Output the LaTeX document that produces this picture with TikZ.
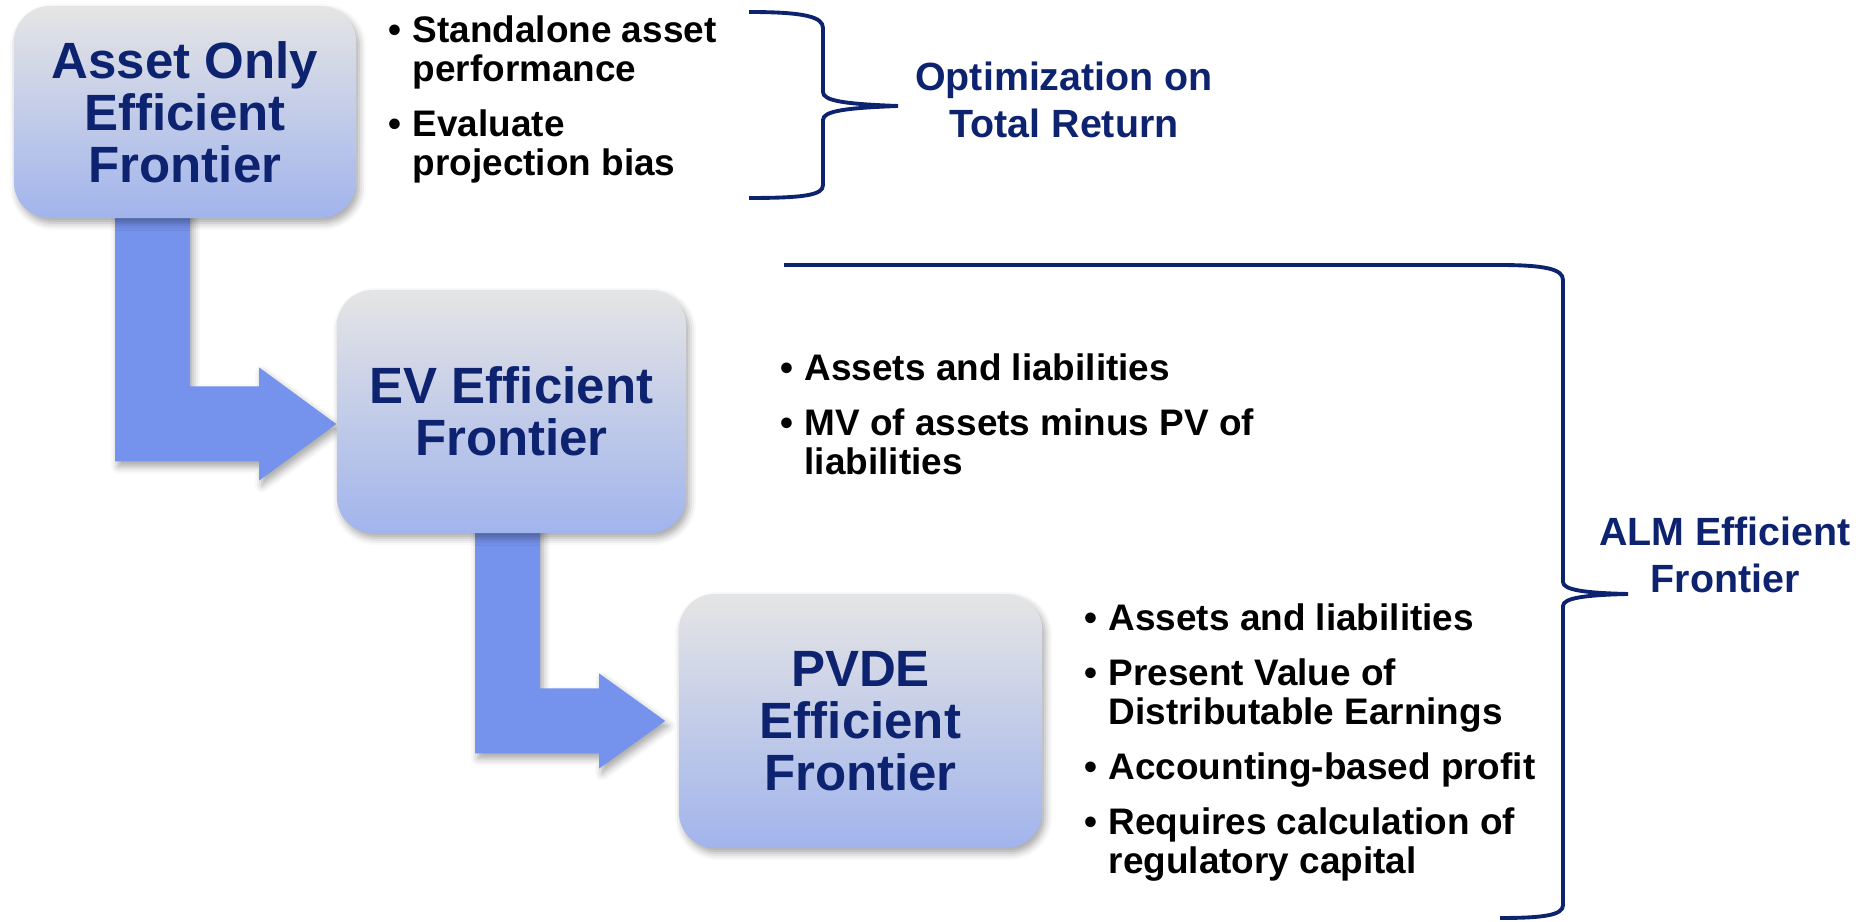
\documentclass[tikz,border=0pt]{standalone}
\usepackage{fontspec}
\setmainfont{Liberation Sans}
\usepackage{xcolor}
\usetikzlibrary{calc,backgrounds,shadows.blur}

\definecolor{navy}{RGB}{14,35,112}
\definecolor{arrowblue}{RGB}{117,146,236}
\definecolor{boxtop}{RGB}{229,229,229}
\definecolor{boxbot}{RGB}{161,180,236}

% bullet and hanging indent for the lists
\newcommand{\bul}{\makebox[0.24cm][l]{\textbullet}}
\newcommand{\hang}{\hspace*{0.24cm}}

% bent block arrow: #1 shaft top, #2 tip, #3 half shaft, #4 half head, #5 head length
\newcommand{\bentarrow}[5]{%
  \coordinate (bend) at (#1|-#2);
  \fill[fatarr] ($(#1)+(-#3,0)$) -- ($(bend)+(-#3,#3)$) -- ($(#2)+(-#5,#3)$) -- ($(#2)+(-#5,#4)$)
    -- (#2) -- ($(#2)+(-#5,-#4)$) -- ($(#2)+(-#5,-#3)$) -- ($(bend)+(#3,-#3)$) -- ($(#1)+(#3,0)$) -- cycle;}

\begin{document}
\begin{tikzpicture}[x=0.01cm, y=-0.01cm,
  shade/.style={blur shadow={shadow xshift=0.03cm, shadow yshift=-0.05cm, shadow blur radius=0.07cm, shadow opacity=35}},
  box/.style={rounded corners=0.36cm, top color=boxtop, bottom color=boxbot, text=navy, align=center,
    inner sep=0pt, font=\bfseries\fontsize{14.5}{14.8}\selectfont, shade},
  fatarr/.style={fill=arrowblue, shade},
  bullets/.style={anchor=north west, align=left, inner sep=0pt, font=\bfseries\fontsize{10.5}{11.1}\selectfont},
  lbl/.style={anchor=north, align=center, inner sep=0pt, text=navy, font=\bfseries\fontsize{11.2}{13.5}\selectfont},
  brace/.style={draw=navy, line width=1.1pt}]
\useasboundingbox (0,0) rectangle (1872,922);

% the three frontiers
\node[box, minimum width=3.42cm, minimum height=2.12cm] (aonly) at (185,112) {Asset Only\\Efficient\\Frontier};
\node[box, minimum width=3.49cm, minimum height=2.43cm] (ev) at (511.5,411.5) {EV Efficient\\Frontier};
\node[box, minimum width=3.63cm, minimum height=2.54cm] (pvde) at (860.5,721) {PVDE\\Efficient\\Frontier};

% arrows behind the boxes
\begin{scope}[on background layer]
\coordinate (s1) at ($(aonly.south)+(-32.5,-10)$);
\coordinate (t1) at ($(ev.west)+(0,12.5)$);
\bentarrow{s1}{t1}{37.5}{56.5}{77}
\coordinate (s2) at ($(ev.south)+(-4,-10)$);
\coordinate (t2) at ($(pvde.west)+(-13,0)$);
\bentarrow{s2}{t2}{32.5}{47.5}{66}
\end{scope}

% bullet lists
\node[bullets] (aonlytxt) at (388,15) {\bul Standalone asset\\ \hang performance\\[0.16cm]
  \bul Evaluate\\ \hang projection bias};
\node[bullets] (evtxt) at (780,353) {\bul Assets and liabilities\\[0.16cm]
  \bul MV of assets minus PV of\\ \hang liabilities};
\node[bullets] (pvdetxt) at (1084,603) {\bul Assets and liabilities\\[0.16cm]
  \bul Present Value of\\ \hang Distributable Earnings\\[0.16cm]
  \bul Accounting-based profit\\[0.16cm]
  \bul Requires calculation of\\ \hang regulatory capital};

% braces and what they group
\draw[brace] (749,12) .. controls (805,12) and (823,17) .. (823,28) -- (823,92)
  .. controls (823,101) and (845,104) .. (898,106) .. controls (845,108) and (823,111) .. (823,120)
  -- (823,185) .. controls (823,195) and (805,198) .. (749,198);
\node[lbl] (opt) at (1064,61) {Optimization on\\Total Return};

\draw[brace] (784,265) -- (1498,265) .. controls (1545,265) and (1563,269) .. (1563,280) -- (1563,582)
  .. controls (1563,590) and (1585,593) .. (1628,594) .. controls (1585,595) and (1563,598) .. (1563,606)
  -- (1563,905) .. controls (1563,915) and (1545,918) .. (1500,918);
\node[lbl] (alm) at (1725,516) {ALM Efficient\\Frontier};
\end{tikzpicture}
\end{document}
